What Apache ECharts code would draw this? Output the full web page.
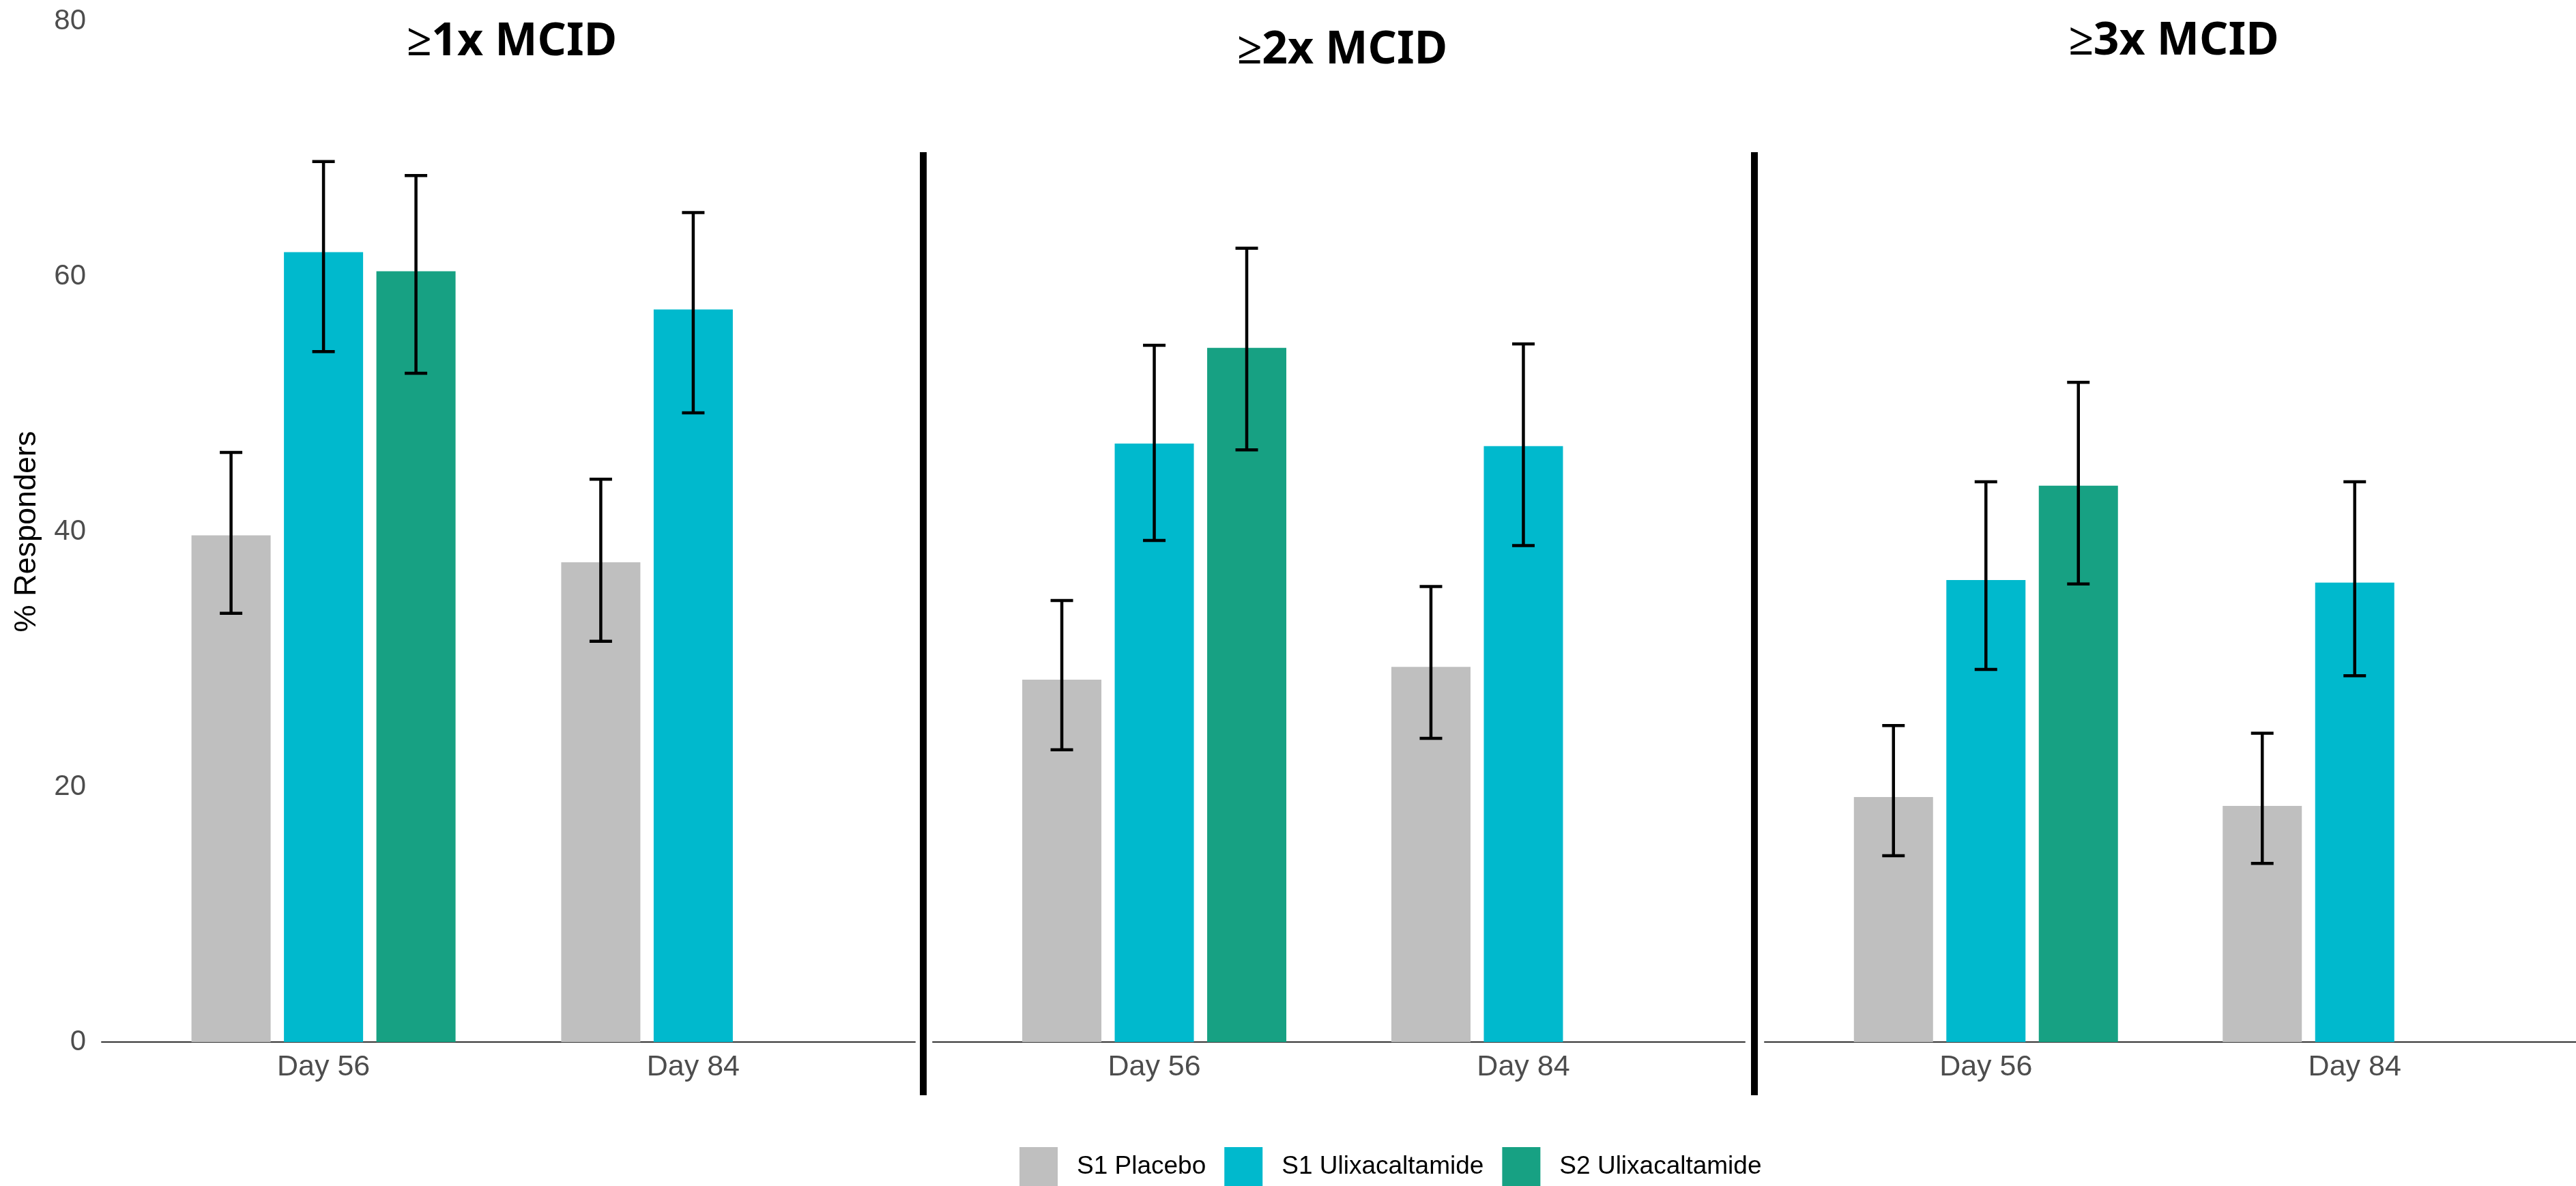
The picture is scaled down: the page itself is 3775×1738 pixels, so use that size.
<!DOCTYPE html>
<html>
<head>
<meta charset="utf-8">
<script src="https://cdn.jsdelivr.net/npm/echarts@6/dist/echarts.min.js"></script>
<style>
  html, body { margin: 0; padding: 0; background: #fff; }
  #chart { width: 3775px; height: 1738px; }
</style>
</head>
<body>
<div id="chart"></div>
<script>
// categories
const days = ['Day 56', 'Day 84'];
const panels = ['≥1x MCID', '≥2x MCID', '≥3x MCID'];
const groups = ['S1 Placebo', 'S1 Ulixacaltamide', 'S2 Ulixacaltamide'];
const colors = ['#BFBFBF', '#00B9CD', '#17A183'];
const yTicks = [0, 20, 40, 60, 80];

// % responders, one row per panel: [Day 56, Day 84]
const placebo = [[39.7, 37.6], [28.4, 29.4], [19.2, 18.5]];
const placeboLow = [[33.6, 31.4], [22.9, 23.8], [14.6, 14.0]];
const placeboHigh = [[46.2, 44.1], [34.6, 35.7], [24.8, 24.2]];

const s1Ulix = [[61.9, 57.4], [46.9, 46.7], [36.2, 36.0]];
const s1UlixLow = [[54.1, 49.3], [39.3, 38.9], [29.2, 28.7]];
const s1UlixHigh = [[69.0, 65.0], [54.6, 54.7], [43.9, 43.9]];

const s2Ulix = [[60.4, null], [54.4, null], [43.6, null]];
const s2UlixLow = [[52.4, null], [46.4, null], [35.9, null]];
const s2UlixHigh = [[67.9, null], [62.2, null], [51.7, null]];

const values = [placebo, s1Ulix, s2Ulix];
const lows = [placeboLow, s1UlixLow, s2UlixLow];
const highs = [placeboHigh, s1UlixHigh, s2UlixHigh];

const BAR_W = 116;
const BAR_GAP = 0.168;
const labelFont = 'Liberation Sans, Arial, sans-serif';

const grids = [
  { left: 149, width: 1192, top: 31, height: 1496 },
  { left: 1367, width: 1190, top: 31, height: 1496 },
  { left: 2586, width: 1189, top: 31, height: 1496 },
];
const titleTops = [24, 36, 23];

const myChart = echarts.init(document.getElementById('chart'));

const xAxes = panels.map((p, i) => ({
  type: 'value',
  gridIndex: i,
  min: 0.4,
  max: 2.6,
  splitLine: { show: false },
  axisTick: { show: false },
  axisLine: { show: true, lineStyle: { color: '#333', width: 2 } },
  axisLabel: {
    customValues: [1, 2],
    formatter: (v) => days[Math.round(v) - 1],
    fontFamily: labelFont,
    fontSize: 43,
    color: '#4d4d4d',
    margin: 16,
  },
}));

const yAxes = panels.map((p, i) => ({
  type: 'value',
  gridIndex: i,
  min: yTicks[0],
  max: yTicks[yTicks.length - 1],
  interval: 20,
  show: i === 0,
  name: i === 0 ? '% Responders' : '',
  nameLocation: 'middle',
  nameGap: 87,
  nameTextStyle: { fontFamily: labelFont, fontSize: 45, color: '#000' },
  splitLine: { show: false },
  axisTick: { show: false },
  axisLine: { show: false },
  axisLabel: { fontFamily: labelFont, fontSize: 42, color: '#4d4d4d', margin: 23 },
}));

const series = [];
panels.forEach((p, pi) => {
  groups.forEach((g, gi) => {
    series.push({
      type: 'bar',
      name: g,
      xAxisIndex: pi,
      yAxisIndex: pi,
      barWidth: BAR_W,
      barGap: (BAR_GAP * 100) + '%',
      itemStyle: { color: colors[gi] },
      data: days.map((d, di) => [di + 1, values[gi][pi][di]]),
    });
  });
  groups.forEach((g, gi) => {
    series.push({
      type: 'custom',
      xAxisIndex: pi,
      yAxisIndex: pi,
      silent: true,
      z: 10,
      data: days
        .map((d, di) => [di + 1, lows[gi][pi][di], highs[gi][pi][di]])
        .filter((r) => r[1] != null),
      renderItem: (params, api) => {
        const x = api.value(0);
        const top = api.coord([x, api.value(2)]);
        const bot = api.coord([x, api.value(1)]);
        const cx = top[0] + (gi - 1) * BAR_W * (1 + BAR_GAP);
        const half = 16.5;
        const style = { stroke: '#000', lineWidth: 4.5 };
        return {
          type: 'group',
          children: [
            { type: 'line', shape: { x1: cx, y1: top[1], x2: cx, y2: bot[1] }, style },
            { type: 'line', shape: { x1: cx - half, y1: top[1], x2: cx + half, y2: top[1] }, style },
            { type: 'line', shape: { x1: cx - half, y1: bot[1], x2: cx + half, y2: bot[1] }, style },
          ],
        };
      },
    });
  });
});

myChart.setOption({
  backgroundColor: '#fff',
  animation: false,
  title: panels.map((p, i) => ({
    text: p,
    left: grids[i].left + grids[i].width / 2,
    top: titleTops[i],
    textAlign: 'center',
    textStyle: { fontFamily: 'Noto Sans', fontWeight: 'bold', fontSize: 66, color: '#000' },
  })),
  legend: {
    data: groups,
    left: 1489,
    top: 1676,
    icon: 'rect',
    itemWidth: 56,
    itemHeight: 58,
    itemGap: 27,
    textStyle: { fontFamily: labelFont, fontSize: 37, color: '#000', padding: [0, 0, 0, 23] },
  },
  grid: grids,
  xAxis: xAxes,
  yAxis: yAxes,
  series: series,
  graphic: [
    { type: 'rect', shape: { x: 1348, y: 223, width: 10, height: 1382 }, style: { fill: '#000' } },
    { type: 'rect', shape: { x: 2566, y: 223, width: 10, height: 1382 }, style: { fill: '#000' } },
  ],
});
</script>
</body>
</html>
